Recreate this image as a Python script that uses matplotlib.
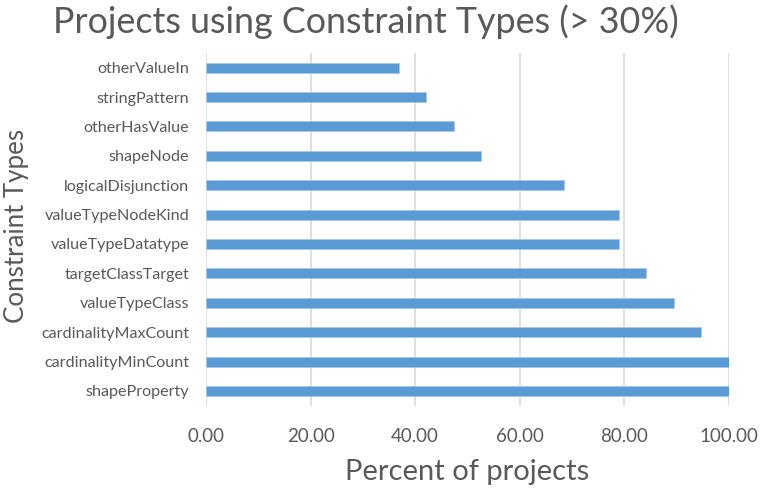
import matplotlib.pyplot as plt

categories = [
    "shapeProperty",
    "cardinalityMinCount",
    "cardinalityMaxCount",
    "valueTypeClass",
    "targetClassTarget",
    "valueTypeDatatype",
    "valueTypeNodeKind",
    "logicalDisjunction",
    "shapeNode",
    "otherHasValue",
    "stringPattern",
    "otherValueIn",
]
percent_of_projects = [100.00, 100.00, 94.74, 89.47, 84.21, 78.95, 78.95, 68.42, 52.63, 47.37, 42.11, 36.84]
x_ticks = [0, 20, 40, 60, 80, 100]

TEXT_COLOR = "#595959"
BAR_COLOR = "#5b9bd5"
GRID_COLOR = "#d9d9d9"

plt.rcParams["font.family"] = ["Lato", "DejaVu Sans"]

fig = plt.figure(figsize=(7.61, 4.88), dpi=100)
ax = fig.add_axes([206 / 761, 1 - 405.6 / 488, 523 / 761, 352.6 / 488])

positions = range(len(categories))
ax.barh(positions, percent_of_projects, height=0.34, color=BAR_COLOR,
        edgecolor="#a9c8ea", linewidth=0.6, zorder=3)

ax.set_xlim(0, 100)
ax.set_ylim(-0.5, len(categories) - 0.5)
ax.set_xticks(x_ticks)
ax.set_xticklabels([f"{t:.2f}" for t in x_ticks], fontsize=13.5, color=TEXT_COLOR)
ax.set_yticks(list(positions))
ax.set_yticklabels(categories, fontsize=11.6, color=TEXT_COLOR)
ax.tick_params(axis="y", length=0, pad=12)
ax.tick_params(axis="x", length=0, pad=16)

ax.grid(axis="x", color=GRID_COLOR, linewidth=1.2, zorder=0)
for spine in ax.spines.values():
    spine.set_visible(False)

ax.set_xlabel("Percent of projects", fontsize=21, color=TEXT_COLOR, labelpad=10)
fig.text(17 / 761, 1 - 226 / 488, "Constraint Types", fontsize=18.6, color=TEXT_COLOR,
         rotation=90, ha="center", va="center")
fig.text(366 / 761, 1 - 22 / 488, "Projects using Constraint Types (> 30%)",
         fontsize=25.8, color=TEXT_COLOR, ha="center", va="center")

fig.savefig("out.png", dpi=100)
